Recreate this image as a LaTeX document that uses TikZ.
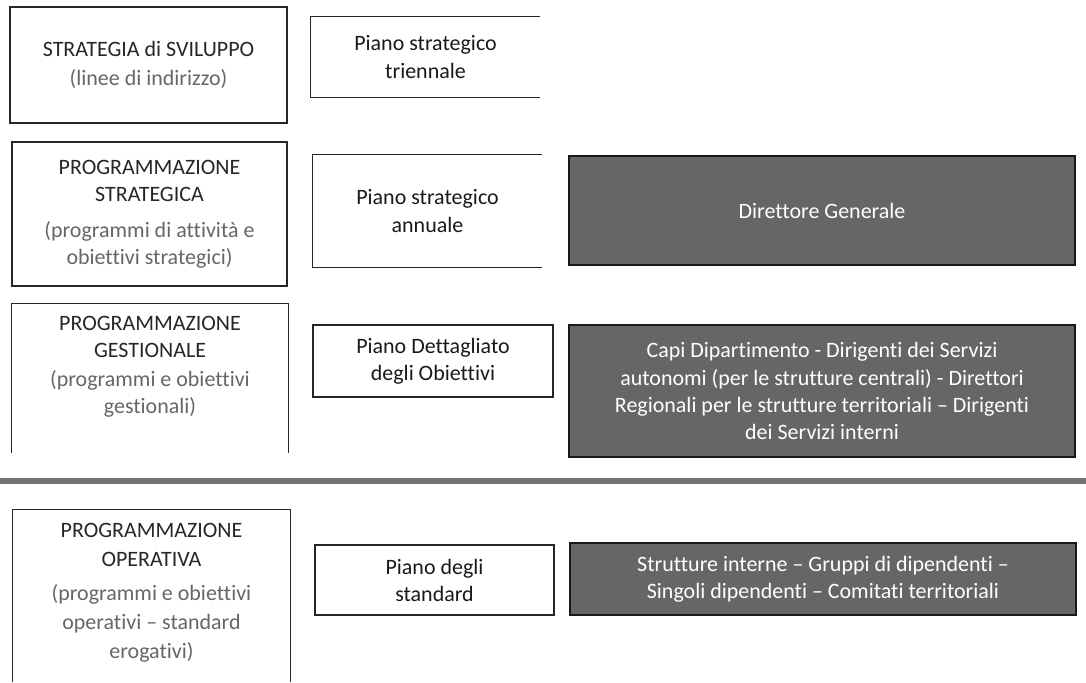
\documentclass[tikz,border=0pt]{standalone}
\usepackage{fontspec}
\setmainfont{Carlito}[Ligatures=NoCommon]
\usetikzlibrary{positioning}

\begin{document}
\begin{tikzpicture}[
    every node/.style={font=\fontsize{12.5}{15.4}\selectfont},
    level/.style={rectangle, align=center, text=black!85, inner sep=2pt},
    plan/.style={rectangle, align=center, text=black!90, inner sep=2pt},
    actor/.style={rectangle, draw=black!90, fill=black!60, line width=0.9pt, align=center, text=white, minimum width=10.12cm},
    frame/.style={draw=black!85, line width=0.9pt},
    divider/.style={draw=black!55, line width=0.13cm}
]
\useasboundingbox (0,0) rectangle (21.72,-13.64);

% left column: levels
\node[level, draw=black!85, line width=0.9pt, minimum width=5.54cm, minimum height=2.32cm] (sviluppo) at (2.97,-1.30) {STRATEGIA di SVILUPPO\\[1pt]\color{black!60}(linee di indirizzo)};
\node[level, draw=black!85, line width=0.9pt, minimum width=5.50cm, minimum height=2.88cm] (strategica) at (2.99,-4.28) {PROGRAMMAZIONE\\STRATEGICA\\[5pt]\color{black!60}(programmi di attività e\\\color{black!60}obiettivi strategici)};
\node[level, minimum width=5.52cm, minimum height=2.52cm] (gestionale) at (3.00,-7.34) {PROGRAMMAZIONE\\GESTIONALE\\[1pt]\color{black!60}(programmi e obiettivi\\\color{black!60}gestionali)};
\node[level, minimum width=5.54cm, minimum height=3.30cm] (operativa) at (3.03,-11.85) {PROGRAMMAZIONE\\[1pt]OPERATIVA\\[4pt]\color{black!60}(programmi e obiettivi\\[1pt]\color{black!60}operativi -- standard\\[1pt]\color{black!60}erogativi)};

\draw[frame] ([yshift=-0.46cm]gestionale.south west) |- (gestionale.north east) -- ([yshift=-0.46cm]gestionale.south east);
\draw[frame] ([yshift=-0.14cm]operativa.south west) |- (operativa.north east) -- ([yshift=-0.14cm]operativa.south east);

% middle column: plans
\node[plan, minimum width=4.58cm, minimum height=1.60cm] (triennale) at (8.51,-1.14) {Piano strategico\\triennale};
\node[plan, minimum width=4.58cm, minimum height=2.24cm] (annuale) at (8.55,-4.22) {Piano strategico\\annuale};
\node[plan, draw=black!85, line width=0.9pt, minimum width=4.80cm, minimum height=1.44cm] (pdo) at (8.66,-7.22) {Piano Dettagliato\\degli Obiettivi};
\node[plan, draw=black!85, line width=0.9pt, minimum width=4.78cm, minimum height=1.40cm] (standard) at (8.69,-11.60) {Piano degli\\standard};

\draw[frame] (triennale.north east) -- (triennale.north west) -- (triennale.south west) -- (triennale.south east);
\draw[frame] (annuale.north east) -- (annuale.north west) -- (annuale.south west) -- (annuale.south east);

% right column: actors
\node[actor, minimum height=2.18cm] (direttore) at (16.44,-4.21) {Direttore Generale};
\node[actor, minimum height=2.64cm] (dirigenti) at (16.44,-7.82) {Capi Dipartimento - Dirigenti dei Servizi\\autonomi (per le strutture centrali) - Direttori\\Regionali per le strutture territoriali -- Dirigenti\\dei Servizi interni};
\node[actor, minimum height=1.44cm] (dipendenti) at (16.46,-11.58) {Strutture interne -- Gruppi di dipendenti --\\Singoli dipendenti -- Comitati territoriali};

% separator
\coordinate (sepl) at (0,-9.62);
\coordinate (sepr) at (21.72,-9.62);
\draw[divider] (sepl) -- (sepr);
\end{tikzpicture}
\end{document}
